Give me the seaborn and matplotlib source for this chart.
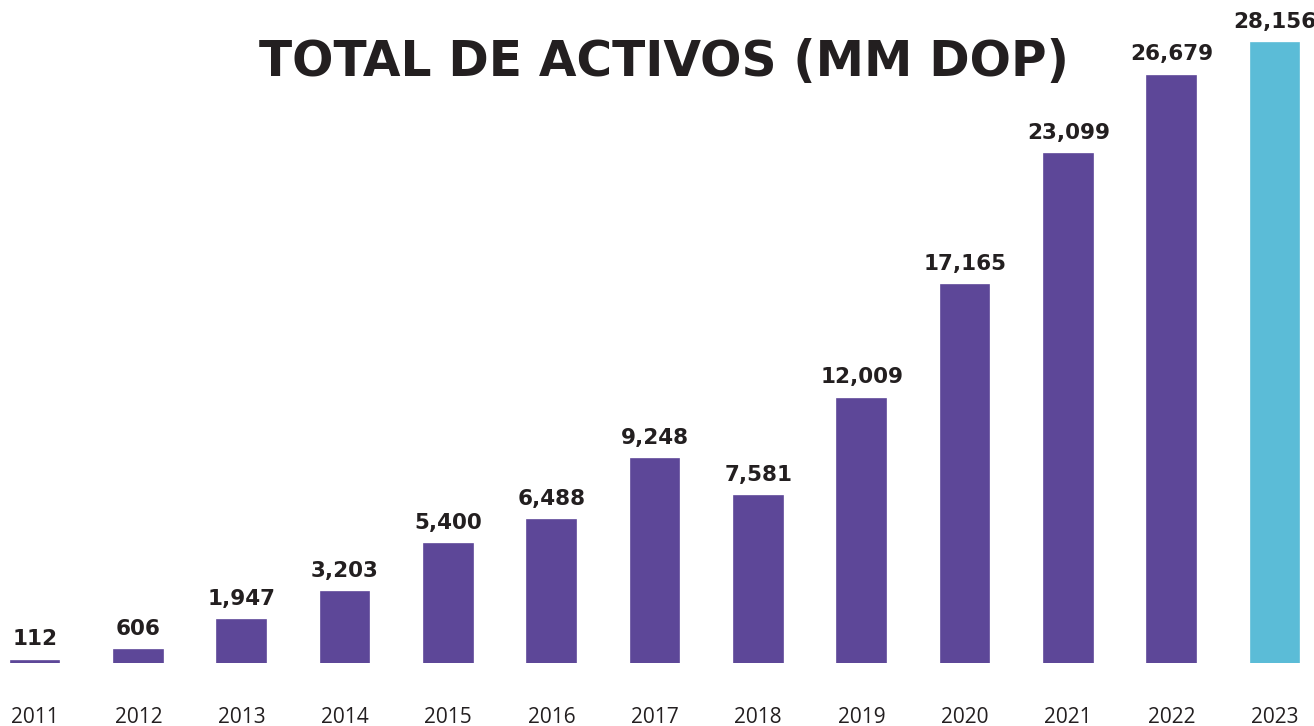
import numpy as np
import pandas as pd
import seaborn as sns
import matplotlib.pyplot as plt

years = ["2011", "2012", "2013", "2014", "2015", "2016", "2017",
         "2018", "2019", "2020", "2021", "2022", "2023"]
activos = [112, 606, 1947, 3203, 5400, 6488, 9248,
           7581, 12009, 17165, 23099, 26679, 28156]
colores = ["#5d4798"] * 12 + ["#5bbcd7"]

df = pd.DataFrame({"year": years, "activos": activos})

sns.set_style("white")
plt.rcParams["font.family"] = ["DejaVu Sans"]

fig = plt.figure(figsize=(13.14, 7.26), dpi=100)
ax = fig.add_axes([0, 63 / 726, 1, 663 / 726])

sns.barplot(data=df, x="year", y="activos", hue="year", palette=colores,
            legend=False, width=0.472, saturation=1, ax=ax)
# thin edge so the tiny 2011 bar is still visible
for p, c in zip(ax.patches, colores):
    p.set_edgecolor(c)
    p.set_linewidth(1.2)

for i, v in enumerate(activos):
    ax.annotate(f"{v:,}", (i, v), xytext=(0, 8), textcoords="offset points",
                ha="center", va="bottom", fontsize=15.5, fontweight="bold",
                color="#231f20")

ax.set_xlim(-0.339, 12.378)
ax.set_ylim(0, 30108)
ax.set_xlabel("")
ax.set_ylabel("")
ax.set_yticks([])
ax.tick_params(axis="x", length=0, pad=32, labelsize=15, labelcolor="#231f20")
for lbl in ax.get_xticklabels():
    lbl.set_family("Open Sans")
sns.despine(ax=ax, left=True, bottom=True)

fig.text(664 / 1314, 1 - 62 / 726, "TOTAL DE ACTIVOS (MM DOP)", ha="center",
         va="center", fontsize=35, fontweight="bold", color="#231f20")

fig.savefig("out.png", dpi=100)
